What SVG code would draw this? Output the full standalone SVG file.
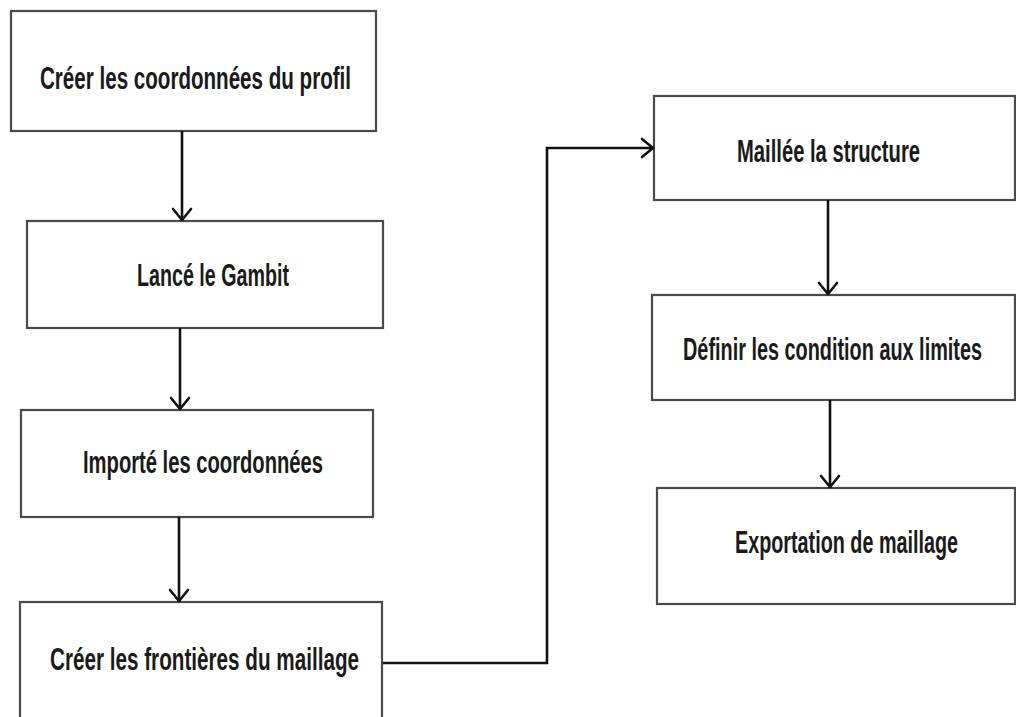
<svg xmlns="http://www.w3.org/2000/svg" width="1016" height="717" viewBox="0 0 1016 717">
  <style>
    .box { fill: #ffffff; stroke: #4a4a4a; stroke-width: 2.2; }
    .lbl { font-family: "Liberation Sans", "DejaVu Sans", sans-serif; font-weight: bold; font-size: 32px; fill: #1a1a1a; }
    .conn { fill: none; stroke: #111111; stroke-width: 2.6; }
  </style>
  <defs>
    <marker id="arr" markerUnits="userSpaceOnUse" viewBox="-14 -12 16 24" refX="0" refY="0" markerWidth="16" markerHeight="24" orient="auto">
      <path d="M-11,-9 L0,0 L-11,9" fill="none" stroke="#111111" stroke-width="2.6" stroke-linecap="round" stroke-linejoin="round"/>
    </marker>
  </defs>
  <rect width="1016" height="717" fill="#ffffff"/>

  <g id="n1">
    <rect class="box" x="11" y="11" width="365" height="120"/>
    <text class="lbl" transform="translate(40,89) scale(0.62,1)" x="0" y="0" textLength="501.6" lengthAdjust="spacingAndGlyphs">Créer les coordonnées du profil</text>
  </g>
  <g id="n2">
    <rect class="box" x="27" y="221" width="356" height="107"/>
    <text class="lbl" transform="translate(137,286) scale(0.62,1)" x="0" y="0" textLength="245.2" lengthAdjust="spacingAndGlyphs">Lancé le Gambit</text>
  </g>
  <g id="n3">
    <rect class="box" x="21" y="410" width="352" height="107"/>
    <text class="lbl" transform="translate(83,473) scale(0.62,1)" x="0" y="0" textLength="387.1" lengthAdjust="spacingAndGlyphs">Importé les coordonnées</text>
  </g>
  <g id="n4">
    <rect class="box" x="20" y="602" width="362" height="130"/>
    <text class="lbl" transform="translate(50,670) scale(0.62,1)" x="0" y="0" textLength="498.4" lengthAdjust="spacingAndGlyphs">Créer les frontières du maillage</text>
  </g>
  <g id="n5">
    <rect class="box" x="654" y="96" width="361" height="104"/>
    <text class="lbl" transform="translate(737,162) scale(0.62,1)" x="0" y="0" textLength="295.2" lengthAdjust="spacingAndGlyphs">Maillée la structure</text>
  </g>
  <g id="n6">
    <rect class="box" x="652" y="295" width="363" height="105"/>
    <text class="lbl" transform="translate(683,360) scale(0.62,1)" x="0" y="0" textLength="482.3" lengthAdjust="spacingAndGlyphs">Définir les condition aux limites</text>
  </g>
  <g id="n7">
    <rect class="box" x="657" y="488" width="358" height="116"/>
    <text class="lbl" transform="translate(735,553) scale(0.62,1)" x="0" y="0" textLength="359.7" lengthAdjust="spacingAndGlyphs">Exportation de maillage</text>
  </g>

  <g id="connectors">
    <path class="conn" d="M182,131 L182,220" marker-end="url(#arr)"/>
    <path class="conn" d="M180,328 L180,409" marker-end="url(#arr)"/>
    <path class="conn" d="M179,517 L179,601" marker-end="url(#arr)"/>
    <path class="conn" d="M383,663 L547,663 L547,148 L653,148" marker-end="url(#arr)"/>
    <path class="conn" d="M828,200 L828,294" marker-end="url(#arr)"/>
    <path class="conn" d="M830,400 L830,487" marker-end="url(#arr)"/>
  </g>
</svg>
